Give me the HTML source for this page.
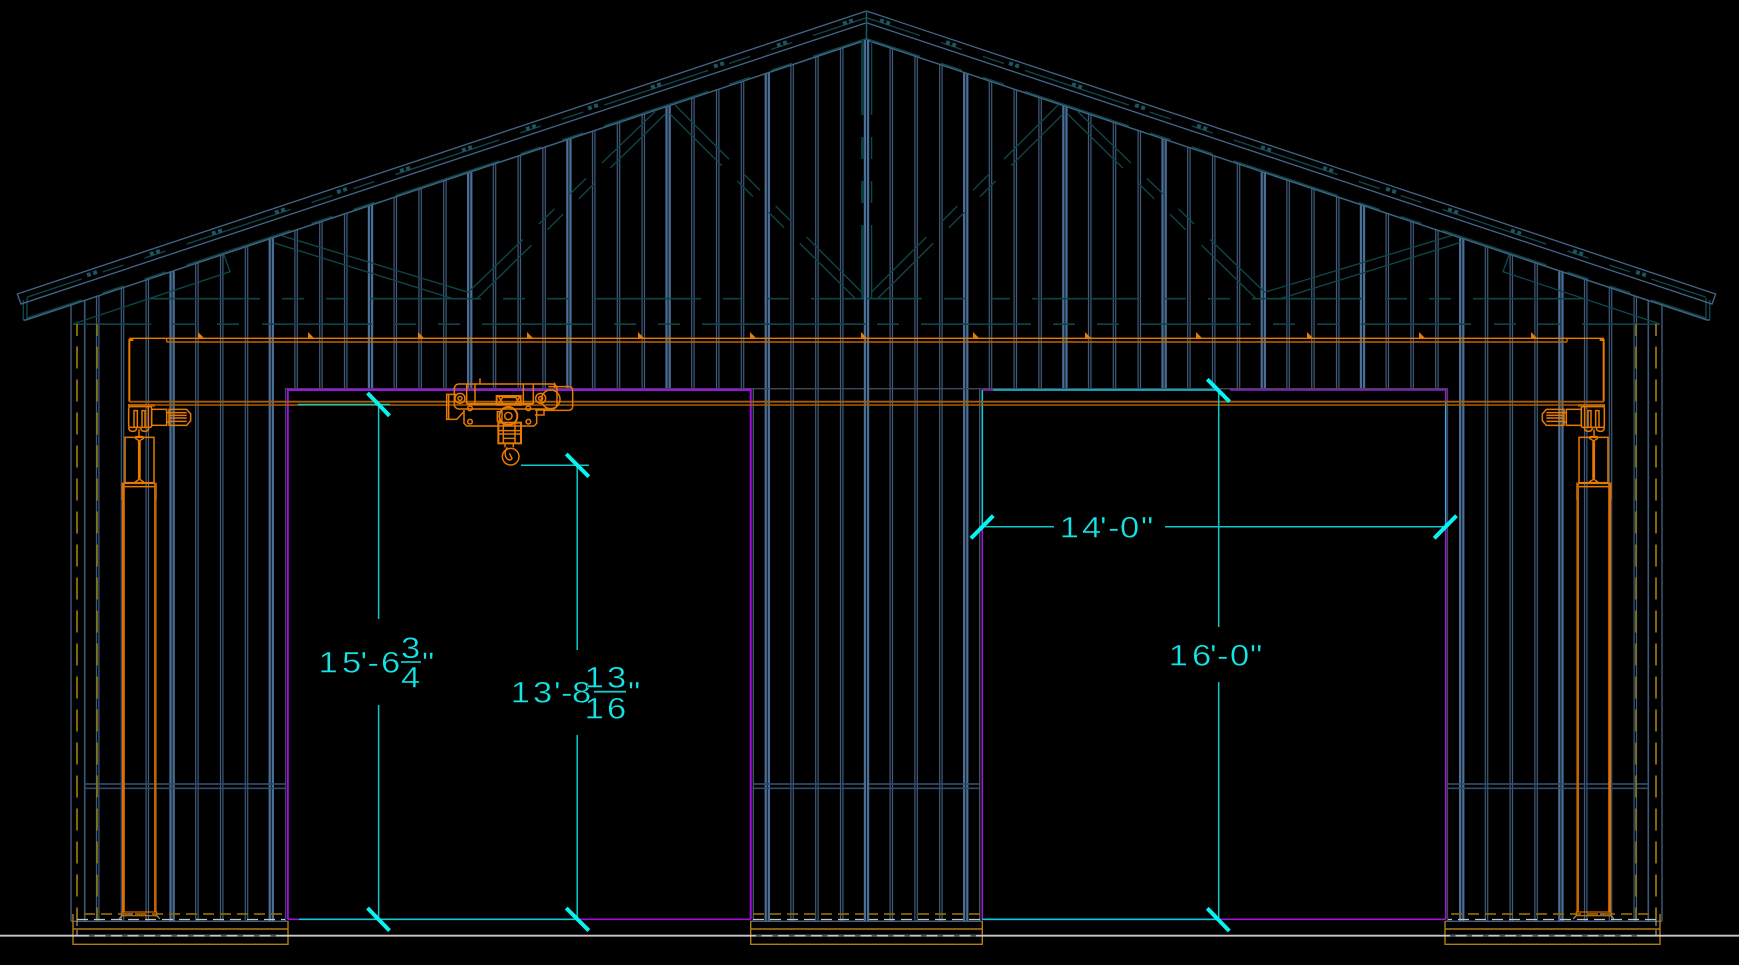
<!DOCTYPE html>
<html><head><meta charset="utf-8"><style>
html,body{margin:0;padding:0;background:#000;width:1739px;height:965px;overflow:hidden}
svg{display:block}
text{font-family:"Liberation Sans",sans-serif;font-size:30px;fill:#14e4e4;stroke:#000;stroke-width:.4}
</style></head><body>
<svg width="1739" height="965" viewBox="0 0 1739 965" xmlns="http://www.w3.org/2000/svg">
<rect width="1739" height="965" fill="#000"/>
<defs>
<path id="thin" fill="none" d="M841.7,48.3V921M816.9,56.5V921M792.1,64.8V921M742.5,81.3V388M717.7,89.6V388M692.9,97.8V388M643.3,114.3V388M618.5,122.6V388M593.7,130.9V388M544.1,147.4V388M519.3,155.6V388M494.5,163.9V388M444.9,180.4V388M420.1,188.7V388M395.3,196.9V388M345.7,213.5V388M320.9,221.7V388M296.1,230V388M246.5,246.5V921M221.7,254.8V921M196.9,263V921M147.3,279.5V921M122.5,287.8V921M97.7,296.1V921"/>
<path id="thick" fill="none" d="M767.3,73V921M668.1,106.1V388M568.9,139.1V388M469.7,172.2V388M370.5,205.2V388M271.3,238.2V921M172.1,271.3V921"/>
<g id="half" fill="none">
  <!-- studs -->
  <use href="#thin" stroke="#405c7c" stroke-width="3.6"/>
  <use href="#thin" stroke="#060a10" stroke-width="1.3"/>
  <use href="#thick" stroke="#4a6e95" stroke-width="5.4"/>
  <use href="#thick" stroke="#0c1420" stroke-width="1"/>
  <path d="M71,304V921" stroke="#33465e" stroke-width="1.8"/>
  <path d="M84.7,300V921" stroke="#3b5878" stroke-width="1.6"/>
  <!-- blocking -->
  <path d="M84.7,784H285.5M84.7,788.3H285.5M753.5,784H866.5M753.5,788.3H866.5" stroke="#2f4a66" stroke-width="1.7"/>
  <!-- door gray outer -->
  <path d="M285.5,921V388.7H866.5" stroke="#3a4a5c" stroke-width="1.3"/>
  <path d="M753.3,921V388.7" stroke="#44586c" stroke-width="1.3"/>
  <!-- slab -->
  <path d="M71,921.3H288M750,921.3H866.5" stroke="#44627f" stroke-width="1.4"/>
  <!-- trusses -->
  <g stroke="#0f4449" stroke-width="1.4">
    <path d="M861.7,292.3L675,105M855,298.3L670,114" stroke-dasharray="78 22 22 22 22 22 78"/>
    <path d="M468.3,292.3L655,111.7M477.3,298.3L666,113.3" stroke-dasharray="76 22 22 22 22 22 78"/>
    <path d="M281.7,235.7L468.3,292.3M273.3,242.7L451.7,298.3"/>
    <path d="M73,324L230,271.7L224,255"/>
    <path d="M148,298.7H260M282,298.7H304M326,298.7H348M370,298.7H481M503,298.7H525M547,298.7H568M592,298.7H701M723,298.7H744M767,298.7H789M811,298.7H866.5" stroke-width="1.6"/>
    <path d="M73,324.2H151M173,324.2H195M217,324.2H239M262,324.2H372M394,324.2H416M438,324.2H460M482,324.2H592M614,324.2H636M658,324.2H680M702,324.2H812M834,324.2H856" stroke-width="1.6"/>
    <!-- roof purlin and plate centre lines -->
    <path d="M866.5,17.7L27,297.2M866.5,38.5L27,318.1" stroke-dasharray="109.6 22.1 22.1 22.1 22.1 22.1" stroke-dashoffset="53.2"/>
    <path stroke="#1c5560" stroke-width="4" stroke-dasharray="4 2.5" d="M87,275.3L97,271.9M150,254.3L160,250.9M212,233.7L222,230.3M275,212.7L285,209.3M337,192.1L347,188.7M400,171.1L410,167.7M462,150.4L472,147M526,129.1L536,125.7M588,108.5L598,105.1M651,87.5L661,84.1M714,66.5L724,63.1M777,45.5L787,42.1M843,23.6L853,20.2"/>
    <path d="M23.3,320V300M27,320V298" stroke-width="1.5"/>
  </g>
  <!-- roof lines -->
  <path d="M866.5,11L17.3,294L21,304L866.5,22.7" stroke="#44668a" stroke-width="1.3"/>
  <path d="M866.5,40L26,320H23.3" stroke="#3b6580" stroke-width="1.5"/>
  <!-- gold dashes -->
  <path d="M77,324V920" stroke="#b8950f" stroke-width="1.4" stroke-dasharray="12 10.5 22 11 22 11 22 11 22 11 22 11 22 11 22 11 22 11 22 11 22 11 22 11 22 11 22 11 22 11 22 11 22 11 22 11"/>
  <path d="M97,324V920" stroke="#8a7a14" stroke-width="1.6" stroke-dasharray="12 10.5 22 11 22 11 22 11 22 11 22 11 22 11 22 11 22 11 22 11 22 11 22 11 22 11 22 11 22 11 22 11 22 11 22 11"/>
  <!-- foundation -->
  <path d="M73,914V944.3H288V921M73,929H288" stroke="#b08010" stroke-width="1.4"/>
  <path d="M84,914H288M753,914H866.5" stroke="#8a6a00" stroke-width="1.7" stroke-dasharray="11 6"/>
  <path d="M77,919.5H285M753,919.5H866.5" stroke="#c4c4c4" stroke-width="1.2" stroke-dasharray="11 6"/>
  <path d="M77,919V926M77,930V935" stroke="#b5b5b5" stroke-width="1"/>
  <!-- crane truck -->
  <g transform="translate(0 220) scale(.33333)" stroke="#e87a00" stroke-width="4.5">
    <path d="M388,545V360H400" stroke-width="6"/>
    <path d="M384,556H465" stroke-width="7"/>
    <rect x="386" y="560" width="69" height="62" rx="5"/>
    <path d="M402,622V572H412V622M426,622V572H435V622M445,560V622"/>
    <path d="M386,622q0,12 12,12t12,-12M422,622q0,12 12,12t12,-12"/>
    <rect x="455" y="568" width="45" height="48"/>
    <path d="M500,578H507M500,606H507"/>
    <path d="M507,568H560L572,582V602L560,616H507ZM507,578H560M507,586H560M507,594H560M507,604H560"/>
    <path d="M417,628V652M406,650H430"/>
    <rect x="375" y="652" width="87" height="136"/>
    <path d="M416,665V775M420,665V775M405,655Q418,660 418,668Q418,660 432,655M405,786Q418,780 418,772Q418,780 432,786"/>
    <path d="M367,790H468V800H367Z"/>
    <path d="M367,800V840M468,800V840"/>
  </g>
  <!-- column -->
  <path d="M123.4,483V912" stroke="#e07000" stroke-width="2.8"/>
  <path d="M155.3,483V912" stroke="#c46400" stroke-width="2.6"/>
  <rect x="122" y="912" width="34.7" height="3.7" stroke="#d86c00" stroke-width="1.2"/>
  <rect x="128" y="913" width="5" height="2" fill="#666" stroke="none"/>
  <path d="M119,919L122,915.7M160,919L156.7,915.7" stroke="#999" stroke-width="1.2"/>
</g>
</defs>

<use href="#half"/>
<use href="#half" transform="translate(1733 0) scale(-1 1)"/>

<g fill="none">
  <!-- center stud and king post -->
  <path d="M866.5,40V921" stroke="#4a6e95" stroke-width="5.4"/>
  <path d="M866.5,40V921" stroke="#0c1420" stroke-width="1"/>
  <path d="M866.5,11V40" stroke="#1d5a68" stroke-width="1.5"/>
  <path d="M862.6,40V298" stroke="#0c3c40" stroke-width="3" stroke-dasharray="75 22 22 22 22 22 75"/>
  <path d="M871.6,40V298" stroke="#0f4449" stroke-width="1.4" stroke-dasharray="75 22 22 22 22 22 75"/>
  <path d="M866.5,298.7H921M866.5,324.2H812" stroke="#0f4449" stroke-width="1.6"/>

  <!-- doors -->
  <path d="M287.8,919.3V390H750.7V919.3" stroke="#a010e0" stroke-width="2"/>
  <path d="M287.8,919.3H299M580,919.3H750.7" stroke="#a010d8" stroke-width="1.6"/>
  <path d="M299,919.3H577" stroke="#14c8d8" stroke-width="1.7"/>
  <path d="M982.3,390H993M1230,390H1445.7V527M982.3,527V919.3H1445.7M1445.7,527V919.3" stroke="#a018d0" stroke-width="1.6"/>
  <path d="M993,390H1218M982.3,390V527" stroke="#14c8e0" stroke-width="1.6"/>
  <path d="M1445.7,402V527" stroke="#14c8e0" stroke-width="1.2"/>
  <path d="M982.3,919.3H1218" stroke="#14c8e0" stroke-width="1.6"/>

  <!-- middle foundation -->
  <path d="M750.7,921V944.3H982.3V921M750.7,929H982.3" stroke="#b08010" stroke-width="1.4"/>
  <!-- ground -->
  <path d="M0,935.7H1739" stroke="#c8c8c8" stroke-width="1.8"/>
  <path d="M89,935.7H280M756,935.7H980M1450,935.7H1645" stroke="#555" stroke-width="1.8" stroke-dasharray="5.5 11"/>

  <!-- crane beam -->
  <path d="M129.3,338.3H1604" stroke="#e87a00" stroke-width="1.4"/>
  <path d="M166.7,342H1567" stroke="#c06400" stroke-width="1.4"/>
  <path d="M166.7,338V342M1567,338V342" stroke="#e87a00" stroke-width="1.2"/>
  <path d="M129,401.7H1604" stroke="#a85c08" stroke-width="1.8"/>
  <path d="M129,405H1604" stroke="#a85c08" stroke-width="1.6"/>
  <path fill="#e87a00" stroke="none" d="M198,338v-6l6,6zM308,338v-6l6,6zM418,338v-6l6,6zM527,338v-6l6,6zM638,338v-6l6,6zM750,338v-6l6,6zM861,338v-6l6,6zM973,338v-6l6,6zM1085,338v-6l6,6zM1196,338v-6l6,6zM1307,338v-6l6,6zM1419,338v-6l6,6zM1531,338v-6l6,6z"/>

  <!-- hoist -->
  <g transform="translate(420 360) scale(.33333)" stroke="#e87a00" stroke-width="4.5">
    <rect x="103" y="72" width="308" height="75" rx="14"/>
    <path d="M140,72V132M165,72V132M310,72V132M340,72V132M180,55V72M404,68V85"/>
    <path d="M140,132H340" stroke-width="7"/>
    <circle cx="120" cy="115" r="15"/><circle cx="120" cy="115" r="6"/>
    <circle cx="362" cy="115" r="15"/><circle cx="362" cy="115" r="6"/>
    <circle cx="392" cy="118" r="28"/>
    <path d="M385,80H445Q458,80 458,93V138Q458,151 445,151H370"/>
    <path d="M110,103H80V178H110L132,155M86,103V178"/>
    <path d="M132,150L132,190L140,198H342L350,190V145"/>
    <circle cx="150" cy="145" r="7"/><circle cx="150" cy="185" r="7"/>
    <circle cx="325" cy="145" r="7"/><circle cx="325" cy="185" r="7"/>
    <rect x="230" y="108" width="72" height="26" stroke-width="6"/>
    <path d="M235,108L250,134M250,108L235,134M285,108L300,134M300,108L285,134"/>
    <path d="M245,112H290M345,150H372V165H345"/>
    <circle cx="265" cy="168" r="27" stroke-width="6"/><circle cx="265" cy="168" r="11"/>
    <rect x="232" y="155" width="14" height="28"/>
    <rect x="235" y="188" width="68" height="62" stroke-width="6"/>
    <path d="M250,188V250M285,188V250M235,222H303M250,235H285M232,212H306"/>
    <path d="M255,250V262M280,250V262"/>
    <circle cx="272" cy="290" r="25"/>
    <path d="M262,262Q250,280 260,295Q270,305 276,295L268,280"/>
  </g>

  <!-- dimension lines -->
  <g stroke="#10c8c8" stroke-width="1.5">
    <path d="M298,404.5H390M378.6,404.5V619M378.6,705V919"/>
    <path d="M521,465.2H589M577.2,465.2V650M577.2,735V919"/>
    <path d="M985,526.7H1054M1165,526.7H1447"/>
    <path d="M1218.7,390V627M1218.7,682V919"/>
  </g>
  <g stroke="#08f2f2" stroke-width="4">
    <path d="M367.5,393L389.5,415.8"/>
    <path d="M566.2,454L588.8,476.7"/>
    <path d="M367.5,908L389.5,930.6"/>
    <path d="M566.2,908L588.8,930.6"/>
    <path d="M1207.3,379.3L1229.6,401.7"/>
    <path d="M1207.3,908.3L1229.3,931"/>
    <path d="M993.3,515.7L971,538.3"/>
    <path d="M1456.5,515.7L1434.2,538.3"/>
  </g>
  <path d="M401,662H421M594,691.7H626" stroke="#10c8c8" stroke-width="1.8"/>
</g>

<g transform="scale(1.15 1)">
<text x="277.1 297.4 313.5 319.6 331.3" y="672.7">15'-6</text>
<text x="348.7" y="658">3</text>
<text x="348.7" y="687.7">4</text>
<text x="367" y="673">"</text>
<text x="444.1 463.5 481.7 487.8 497.4" y="702.7">13'-8</text>
<text x="508.4 527.8" y="687.7">13</text>
<text x="508.4 527.8" y="718.3">16</text>
<text x="546.1" y="702.5">"</text>
<text x="921.5 940.9 956.5 963.5 973.9 992.2" y="537.7">14'-0"</text>
<text x="1016.3 1036.5 1052.2 1058.3 1069.6 1087" y="665.7">16'-0"</text>
</g>
</svg>
</body></html>
